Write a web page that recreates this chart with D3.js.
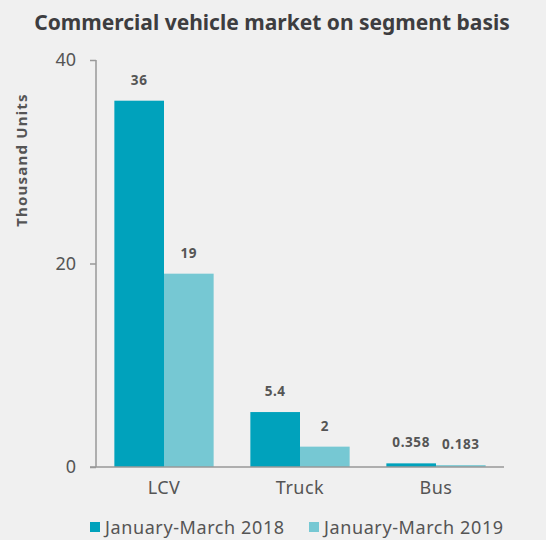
<!DOCTYPE html>
<html>
<head>
<meta charset="utf-8">
<script src="https://cdn.jsdelivr.net/npm/d3@7"></script>
<style>
  body { margin: 0; background: #f0f0f0; }
  svg { display: block; font-family: "Noto Sans", sans-serif; }
</style>
</head>
<body>
<div id="chart"></div>
<script>
// chart data
var categories = ["LCV", "Truck", "Bus"];
var seriesNames = ["January-March 2018", "January-March 2019"];
var values2018 = [36, 5.4, 0.358];
var values2019 = [19, 2, 0.183];
var labels2018 = ["36", "5.4", "0.358"];
var labels2019 = ["19", "2", "0.183"];
var yTicks = [0, 20, 40];

var svgWidth = 546, svgHeight = 540;
var colors = ["#00a2bc", "#76c8d3"];
var textColor = "#555555";

var svg = d3.select("#chart").append("svg")
  .attr("width", svgWidth)
  .attr("height", svgHeight);

svg.append("rect").attr("width", svgWidth).attr("height", svgHeight).attr("fill", "#f0f0f0");

var rows = categories.map(function(c, i) {
  return {cat: c, vals: [values2018[i], values2019[i]], labels: [labels2018[i], labels2019[i]]};
});

var x0 = d3.scaleBand().domain(categories).range([96, 504]).paddingInner(0.27).paddingOuter(0.135);
var x1 = d3.scaleBand().domain([0, 1]).range([0, x0.bandwidth()]);
var y = d3.scaleLinear().domain([0, 40]).range([467, 60]);

// title
svg.append("text")
  .attr("x", 272).attr("y", 30)
  .attr("text-anchor", "middle")
  .attr("font-size", 21).attr("font-weight", "bold")
  .attr("fill", "#3d3d40")
  .text("Commercial vehicle market on segment basis");

// bars
var groups = svg.selectAll("g.grp").data(rows).enter().append("g")
  .attr("class", "grp")
  .attr("transform", function(d) { return "translate(" + x0(d.cat) + ",0)"; });

groups.selectAll("rect").data(function(d) { return d.vals.map(function(v, j) { return {v: v, j: j, label: d.labels[j]}; }); })
  .enter().append("rect")
  .attr("x", function(d) { return x1(d.j); })
  .attr("y", function(d) { return y(d.v); })
  .attr("width", x1.bandwidth())
  .attr("height", function(d) { return y(0) - y(d.v); })
  .attr("fill", function(d) { return colors[d.j]; });

groups.selectAll("text").data(function(d) { return d.vals.map(function(v, j) { return {v: v, j: j, label: d.labels[j]}; }); })
  .enter().append("text")
  .attr("x", function(d) { return x1(d.j) + x1.bandwidth() / 2; })
  .attr("y", function(d) { return y(d.v) - 16; })
  .attr("text-anchor", "middle")
  .attr("font-size", 13.5).attr("font-weight", "bold")
  .attr("letter-spacing", 0.6)
  .attr("fill", textColor)
  .text(function(d) { return d.label; });

// y axis
var yAxis = d3.axisLeft(y).tickValues(yTicks).tickSize(6).tickPadding(14);
var gy = svg.append("g").attr("transform", "translate(96,0)").call(yAxis);
gy.select(".domain").attr("stroke", "#999").attr("stroke-width", 1.5).attr("d", "M0,60V467");
gy.selectAll(".tick line").attr("stroke", "#999").attr("stroke-width", 1.5);
gy.selectAll(".tick text").attr("font-size", 18).attr("fill", textColor).attr("font-family", "Noto Sans");

// x axis
var xAxis = d3.axisBottom(x0).tickSize(0).tickPadding(14);
var gx = svg.append("g").attr("transform", "translate(0,467)").call(xAxis);
gx.select(".domain").attr("stroke", "#999").attr("stroke-width", 1.5).attr("d", "M90,0H504");
gx.selectAll(".tick text").attr("font-size", 18).attr("letter-spacing", 0.5).attr("fill", textColor).attr("font-family", "Noto Sans");

// y label
svg.append("text")
  .attr("transform", "translate(27,160) rotate(-90)")
  .attr("text-anchor", "middle")
  .attr("font-size", 15).attr("font-weight", "bold")
  .attr("letter-spacing", 1.2)
  .attr("fill", textColor)
  .text("Thousand Units");

// legend
var legendX = [90, 309];
var legend = svg.selectAll("g.leg").data(seriesNames).enter().append("g")
  .attr("class", "leg")
  .attr("transform", function(d, i) { return "translate(" + legendX[i] + ",522)"; });
legend.append("rect").attr("x", 0).attr("y", 0).attr("width", 10).attr("height", 10)
  .attr("fill", function(d, i) { return colors[i]; });
legend.append("text").attr("x", 15).attr("y", 11.5)
  .attr("font-size", 18).attr("letter-spacing", 0.6).attr("fill", textColor)
  .text(function(d) { return d; });
</script>
</body>
</html>
